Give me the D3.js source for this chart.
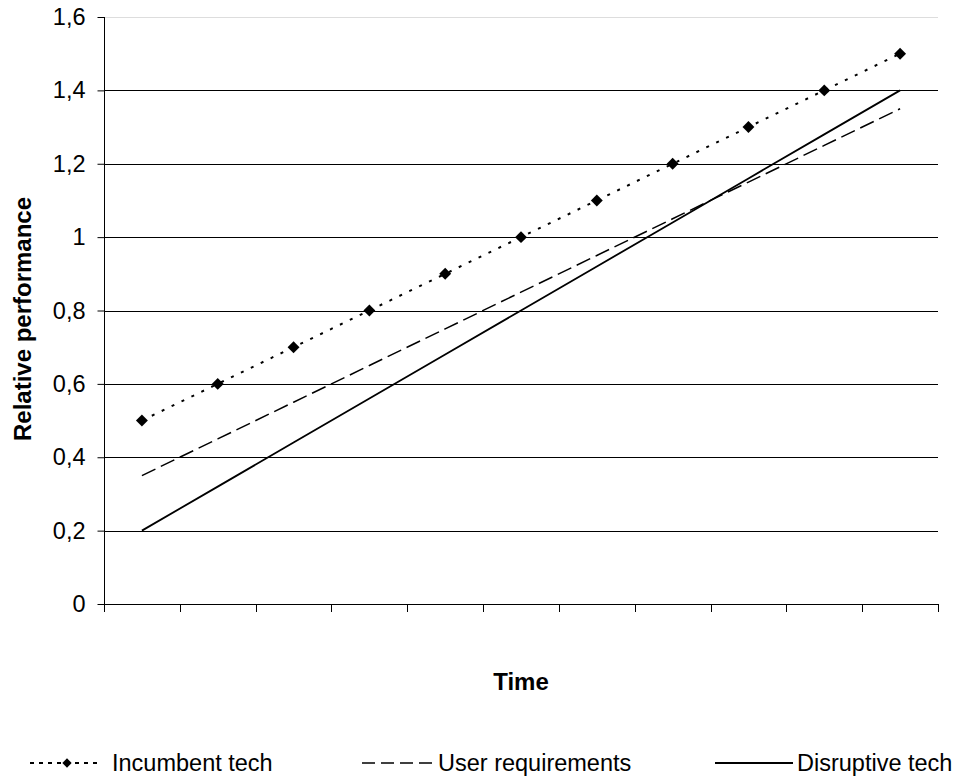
<!DOCTYPE html>
<html><head><meta charset="utf-8">
<script src="https://cdn.jsdelivr.net/npm/d3@7"></script>
<style>body{margin:0;background:#fff}svg{display:block}text{font-family:"Liberation Sans",Arial,sans-serif}</style>
</head><body>
<svg id="c" width="959" height="778"></svg>
<script>
const categories = [1,2,3,4,5,6,7,8,9,10,11];
const incumbent = [0.5,0.6,0.7,0.8,0.9,1.0,1.1,1.2,1.3,1.4,1.5];
const userReq = [0.35,0.45,0.55,0.65,0.75,0.85,0.95,1.05,1.15,1.25,1.35];
const disruptive = [0.2,0.32,0.44,0.56,0.68,0.8,0.92,1.04,1.16,1.28,1.4];
const yTicks = [0,0.2,0.4,0.6,0.8,1,1.2,1.4,1.6];
const seriesNames = ["Incumbent tech","User requirements","Disruptive tech"];

const svg = d3.select("#c");
const L=104,R=938,T=17,B=604;
const FS = "23.5px";
const x = d3.scaleBand().domain(categories).range([L,R]);
const y = d3.scaleLinear().domain([0,1.6]).range([B,T]);
const fmt = d => String(d).replace(".",",");

// gridlines
svg.append("g").selectAll("line").data(yTicks.filter(d=>d>0)).join("line")
  .attr("x1",L).attr("x2",R).attr("y1",d=>Math.round(y(d))+0.5).attr("y2",d=>Math.round(y(d))+0.5)
  .attr("stroke",d=>d===1.6?"#ddd":"#000").attr("stroke-width",1);

// y axis
const ya = svg.append("g").attr("transform",`translate(${L+0.5},0)`)
  .call(d3.axisLeft(y).tickValues(yTicks).tickFormat(fmt).tickSize(7).tickPadding(12));
ya.select(".domain").attr("stroke","#000").attr("d",`M0,${T}V${B}`);
ya.selectAll("text").attr("font-size",FS).attr("fill","#000").attr("font-family","Liberation Sans, Arial, sans-serif");
ya.selectAll("line").attr("stroke","#000");

// x axis with ticks at category boundaries
svg.append("line").attr("x1",L).attr("x2",R).attr("y1",B+0.5).attr("y2",B+0.5).attr("stroke","#000");
const bounds = categories.map(c=>x(c)).concat([R]);
svg.append("g").selectAll("line").data(bounds).join("line")
  .attr("x1",d=>Math.round(d)+0.5).attr("x2",d=>Math.round(d)+0.5).attr("y1",B).attr("y2",B+8).attr("stroke","#000");

const cx = c => x(c)+x.bandwidth()/2;
const line = arr => d3.line().x((d,i)=>cx(categories[i])).y(d=>y(d))(arr);

svg.append("path").attr("d",line(disruptive)).attr("fill","none").attr("stroke","#000").attr("stroke-width",1.8);
svg.append("path").attr("d",line(userReq)).attr("fill","none").attr("stroke","#000").attr("stroke-width",1.5).attr("stroke-dasharray","15,6");
svg.append("path").attr("d",line(incumbent)).attr("fill","none").attr("stroke","#000").attr("stroke-width",2).attr("stroke-dasharray","3,8");
const diamond = d3.symbol().type(d3.symbolDiamond2).size(90);
svg.append("g").selectAll("path").data(incumbent).join("path")
  .attr("d",diamond).attr("transform",(d,i)=>`translate(${cx(categories[i])},${y(d)})`).attr("fill","#000");

// axis titles
svg.append("text").attr("x",(L+R)/2).attr("y",690).attr("text-anchor","middle")
  .attr("font-size","24px").attr("font-weight","bold").text("Time");
svg.append("text").attr("transform",`translate(31,319) rotate(-90)`).attr("text-anchor","middle")
  .attr("font-size","24px").attr("font-weight","bold").text("Relative performance");

// legend
const ly = 763, tb = 771;
const leg = svg.append("g");
leg.append("line").attr("x1",30).attr("x2",102).attr("y1",ly).attr("y2",ly).attr("stroke","#000").attr("stroke-width",2).attr("stroke-dasharray","4,5");
leg.append("path").attr("d",d3.symbol().type(d3.symbolDiamond2).size(55)).attr("transform",`translate(67,${ly})`);
leg.append("text").attr("x",112).attr("y",tb).attr("font-size",FS).text(seriesNames[0]);
leg.append("line").attr("x1",362).attr("x2",433).attr("y1",ly).attr("y2",ly).attr("stroke","#000").attr("stroke-width",1.5).attr("stroke-dasharray","13,6");
leg.append("text").attr("x",438).attr("y",tb).attr("font-size",FS).text(seriesNames[1]);
leg.append("line").attr("x1",715).attr("x2",793).attr("y1",ly).attr("y2",ly).attr("stroke","#000").attr("stroke-width",1.8);
leg.append("text").attr("x",797).attr("y",tb).attr("font-size",FS).text(seriesNames[2]);
</script>
</body></html>
